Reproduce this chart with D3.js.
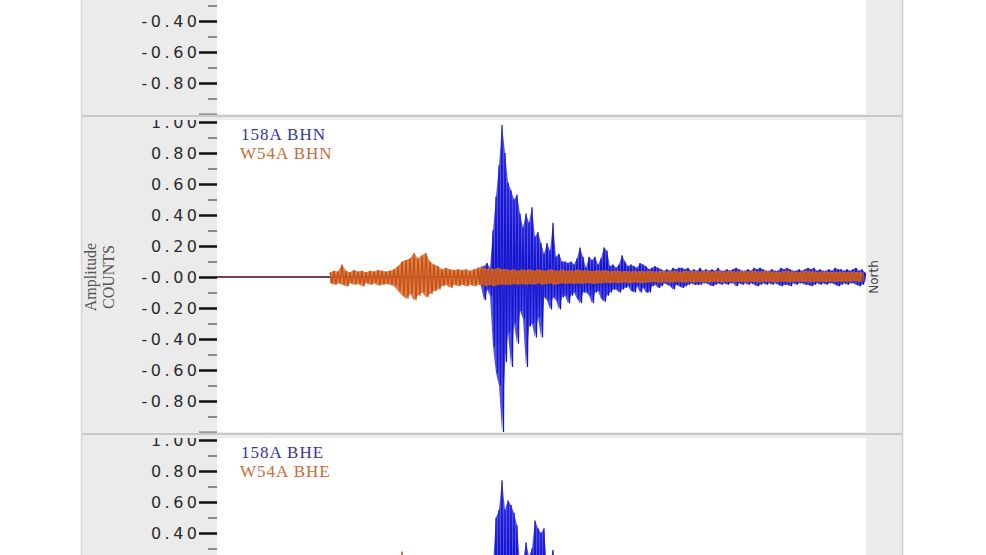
<!DOCTYPE html>
<html><head><meta charset="utf-8">
<script src="https://cdn.jsdelivr.net/npm/d3@7"></script>
<style>html,body{margin:0;padding:0;background:#fff}svg{display:block}</style>
</head><body>
<svg id="chart" width="986" height="555"></svg>
<script>
// ---------------- DATA ----------------
const stations = ["158A", "W54A"];
const channels = ["BHZ", "BHN", "BHE"];
const componentNames = ["Vertical", "North", "East"];
const majorTicks = [1, 0.8, 0.6, 0.4, 0.2, 0, -0.2, -0.4, -0.6, -0.8, -1];
const majorLabels = ["1.00", "0.80", "0.60", "0.40", "0.20", "-0.00", "-0.20", "-0.40", "-0.60", "-0.80", ""];
const minorTicks = [0.9, 0.7, 0.5, 0.3, 0.1, -0.1, -0.3, -0.5, -0.7, -0.9];
const recordStart = 0, recordEnd = 649;   // seconds

// 158A BHN (blue) envelope samples
const bhnBlueStart = 261, bhnBlueStep = 3;
const bhnBlueHi = [0.02,0.05,0.07,0.09,0.06,0.30,0.52,0.72,0.98,0.80,0.61,0.56,0.50,0.53,0.41,0.32,0.41,0.35,0.45,0.26,
0.29,0.22,0.15,0.22,0.17,0.35,0.13,0.15,0.10,0.10,0.09,0.10,0.08,0.12,0.19,0.13,0.06,0.13,0.11,0.13,
0.08,0.12,0.19,0.17,0.07,0.08,0.06,0.08,0.14,0.10,0.07,0.08,0.07,0.06,0.09,0.08,0.07,0.05,0.06,0.07,
0.06,0.05,0.04,0.05,0.04,0.06,0.05,0.06,0.06,0.05,0.06,0.04,0.05,0.04,0.06,0.04,0.05,0.04,0.05,0.04,
0.06,0.04,0.04,0.05,0.04,0.05,0.06,0.05,0.04,0.04,0.05,0.04,0.06,0.05,0.06,0.05,0.04,0.04,0.05,0.04,
0.04,0.06,0.05,0.06,0.05,0.04,0.04,0.05,0.04,0.05,0.06,0.05,0.06,0.04,0.05,0.04,0.04,0.05,0.04,0.06,
0.05,0.05,0.04,0.05,0.04,0.05,0.06,0.04,0.05,0.03];
const bhnBlueLo = [-0.02,-0.06,-0.15,-0.08,-0.12,-0.45,-0.62,-0.70,-1.00,-0.55,-0.36,-0.58,-0.30,-0.43,-0.22,-0.27,-0.58,-0.32,-0.30,-0.39,
-0.26,-0.39,-0.13,-0.15,-0.21,-0.13,-0.15,-0.21,-0.13,-0.12,-0.17,-0.12,-0.10,-0.14,-0.17,-0.10,-0.10,-0.12,-0.17,-0.10,
-0.09,-0.14,-0.16,-0.12,-0.10,-0.08,-0.08,-0.10,-0.08,-0.07,-0.06,-0.09,-0.10,-0.06,-0.10,-0.07,-0.10,-0.10,-0.06,-0.05,
-0.07,-0.06,-0.04,-0.05,-0.06,-0.08,-0.05,-0.06,-0.07,-0.06,-0.05,-0.04,-0.05,-0.05,-0.05,-0.04,-0.04,-0.05,-0.06,-0.05,
-0.04,-0.05,-0.04,-0.05,-0.04,-0.04,-0.06,-0.04,-0.05,-0.04,-0.05,-0.04,-0.05,-0.06,-0.05,-0.04,-0.05,-0.04,-0.05,-0.04,
-0.05,-0.06,-0.05,-0.05,-0.06,-0.04,-0.05,-0.04,-0.04,-0.05,-0.05,-0.06,-0.05,-0.04,-0.05,-0.04,-0.05,-0.04,-0.04,-0.05,
-0.06,-0.05,-0.04,-0.05,-0.04,-0.04,-0.05,-0.06,-0.05,-0.03];

// W54A BHN (orange) envelope samples
const bhnOrangeStart = 113, bhnOrangeStep = 4;
const bhnOrangeHi = [0.03,0.04,0.035,0.08,0.04,0.03,0.045,0.035,0.04,0.03,0.04,0.035,0.045,0.04,0.035,0.04,0.05,0.07,0.10,0.11,
0.12,0.155,0.12,0.14,0.155,0.10,0.08,0.07,0.05,0.06,0.05,0.045,0.05,0.045,0.05,0.04,0.05,0.06,0.07,0.05,
0.06,0.05,0.06,0.05,0.05,0.045,0.05,0.04,0.05,0.045,0.05,0.04,0.05,0.045,0.04,0.05,0.045,0.04,0.05,0.04,
0.045,0.04,0.05,0.04,0.045,0.04,0.04,0.045,0.04,0.045,0.035,0.04,0.04,0.035,0.04,0.035,0.04,0.035,0.04,0.035,
0.04,0.035,0.035,0.04,0.035,0.035,0.04,0.035,0.035,0.04,0.035,0.04,0.035,0.035,0.04,0.035,0.035,0.04,0.035,0.035,
0.04,0.035,0.035,0.04,0.035,0.035,0.04,0.035,0.035,0.04,0.035,0.035,0.03,0.035,0.04,0.035,0.035,0.03,0.035,0.04,
0.035,0.035,0.03,0.035,0.035,0.03,0.035,0.03,0.035,0.03,0.03,0.035,0.03,0.03];
const bhnOrangeLo = [-0.04,-0.05,-0.04,-0.05,-0.06,-0.04,-0.05,-0.045,-0.06,-0.04,-0.05,-0.04,-0.055,-0.05,-0.045,-0.05,-0.06,-0.09,-0.12,-0.14,
-0.11,-0.15,-0.12,-0.10,-0.13,-0.11,-0.09,-0.08,-0.06,-0.05,-0.07,-0.05,-0.06,-0.05,-0.06,-0.05,-0.06,-0.05,-0.05,-0.06,
-0.05,-0.06,-0.05,-0.05,-0.05,-0.05,-0.045,-0.05,-0.045,-0.05,-0.045,-0.05,-0.04,-0.05,-0.045,-0.04,-0.05,-0.045,-0.04,-0.045,
-0.04,-0.045,-0.04,-0.045,-0.04,-0.04,-0.045,-0.04,-0.04,-0.035,-0.04,-0.035,-0.04,-0.035,-0.035,-0.04,-0.035,-0.035,-0.04,-0.035,
-0.035,-0.03,-0.035,-0.035,-0.03,-0.035,-0.035,-0.03,-0.035,-0.035,-0.03,-0.035,-0.03,-0.035,-0.03,-0.035,-0.03,-0.03,-0.035,-0.03,
-0.03,-0.035,-0.03,-0.03,-0.035,-0.03,-0.03,-0.035,-0.03,-0.03,-0.03,-0.035,-0.03,-0.03,-0.03,-0.035,-0.03,-0.03,-0.03,-0.03,
-0.035,-0.03,-0.03,-0.03,-0.03,-0.03,-0.03,-0.03,-0.03,-0.03,-0.03,-0.025,-0.03,-0.03];

// 158A BHE (blue) envelope samples
const bheBlueStart = 261, bheBlueStep = 3;
const bheBlueHi = [0.03,0.05,0.07,0.08,0.12,0.20,0.50,0.55,0.74,0.55,0.61,0.58,0.53,0.45,0.20,0.22,0.34,0.25,0.30,0.48,
0.43,0.40,0.43,0.18,0.22,0.29,0.15,0.18,0.14,0.16,0.12,0.13,0.10,0.12,0.09,0.11,0.08,0.10,0.08,0.09,0.07];
const bheBlueLo = [-0.03,-0.05,-0.06,-0.09,-0.10,-0.25,-0.45,-0.60,-0.70,-0.50,-0.45,-0.40,-0.42,-0.35,-0.30,-0.25,-0.28,-0.30,-0.22,-0.35,
-0.30,-0.28,-0.25,-0.20,-0.18,-0.22,-0.15,-0.14,-0.12,-0.15,-0.12,-0.11,-0.12,-0.10,-0.10,-0.09,-0.10,-0.08,-0.09,-0.08,-0.07];

// W54A BHE (orange) envelope samples
const bheOrangeStart = 113, bheOrangeStep = 4;
const bheOrangeHi = [0.03,0.04,0.03,0.05,0.04,0.03,0.05,0.04,0.06,0.04,0.05,0.06,0.08,0.07,0.09,0.12,0.15,0.18,0.28,0.20,
0.17,0.19,0.15,0.16,0.12,0.10,0.08,0.07,0.06,0.06,0.05,0.05,0.06,0.05,0.05,0.04,0.05,0.05,0.04,0.05,
0.04,0.05,0.04,0.04,0.05,0.04,0.04,0.05,0.04,0.04,0.04,0.05,0.04,0.04,0.04,0.04,0.04];
const bheOrangeLo = [-0.03,-0.04,-0.05,-0.04,-0.05,-0.04,-0.05,-0.04,-0.05,-0.06,-0.05,-0.07,-0.07,-0.08,-0.10,-0.11,-0.14,-0.20,-0.22,-0.18,
-0.20,-0.16,-0.17,-0.14,-0.13,-0.11,-0.09,-0.08,-0.07,-0.06,-0.06,-0.05,-0.06,-0.05,-0.05,-0.05,-0.04,-0.05,-0.05,-0.04,
-0.05,-0.04,-0.04,-0.05,-0.04,-0.04,-0.05,-0.04,-0.04,-0.04,-0.05,-0.04,-0.04,-0.04,-0.04,-0.04,-0.04];

// ---------------- LAYOUT ----------------
const W = 986, H = 555;
const plotLeft = 217, plotRight = 866, stripRight = 902, outerLeft = 82;
const panelTops = [-196, 122, 440];
const plotH = 310;
const blue = {line: "#1414cc", fill: "#3434e8", text: "#35359f"};
const orange = {line: "#c64e12", fill: "#d86a2a", text: "#c66c33"};

const traces = [
  null,
  {blue: [bhnBlueStart, bhnBlueStep, bhnBlueHi, bhnBlueLo], orange: [bhnOrangeStart, bhnOrangeStep, bhnOrangeHi, bhnOrangeLo]},
  {blue: [bheBlueStart, bheBlueStep, bheBlueHi, bheBlueLo], orange: [bheOrangeStart, bheOrangeStep, bheOrangeHi, bheOrangeLo]}
];

const svg = d3.select("#chart");
const defs = svg.append("defs");
const x = d3.scaleLinear().domain([recordStart, recordEnd]).range([plotLeft, plotRight]);

function samples(start, step, hi, lo) {
  return hi.map((h, i) => ({t: start + i * step, hi: h, lo: lo[i]}));
}

panelTops.forEach((T, p) => {
  const y = d3.scaleLinear().domain([-1, 1]).range([T + plotH, T]);
  const g = svg.append("g");
  const cid = "clip" + p, pid = "pclip" + p;
  defs.append("clipPath").attr("id", cid).append("rect")
    .attr("x", outerLeft).attr("y", T - 2).attr("width", stripRight - outerLeft).attr("height", plotH + 3);
  defs.append("clipPath").attr("id", pid).append("rect")
    .attr("x", plotLeft).attr("y", T - 2).attr("width", plotRight - plotLeft).attr("height", plotH + 2);

  g.append("rect").attr("x", outerLeft).attr("y", T - 5).attr("width", stripRight - outerLeft).attr("height", plotH + 18)
    .attr("fill", "#ebebeb");
  g.append("rect").attr("x", plotLeft).attr("y", T - 2).attr("width", plotRight - plotLeft).attr("height", plotH + 2)
    .attr("fill", "#ffffff");

  // traces
  const tg = g.append("g").attr("clip-path", `url(#${pid})`);
  const tr = traces[p];
  if (tr) {
    const line = d3.line().x(d => x(d[0])).y(d => y(d[1]));
    const area = d3.area().x(d => x(d.t)).y0(d => y(d.lo)).y1(d => y(d.hi));
    [["blue", blue], ["orange", orange]].forEach(([key, col]) => {
      const [start, step, hi, lo] = tr[key];
      const s = samples(start, step, hi, lo);
      const last = s[s.length - 1].t + step / 2;
      tg.append("path").attr("d", line([[recordStart, 0], [start, 0]]))
        .attr("fill", "none").attr("stroke", key === "orange" ? "#7e3a2c" : col.line).attr("stroke-width", 1.4);
      tg.append("path").attr("d", line([[last, 0], [recordEnd, 0]]))
        .attr("fill", "none").attr("stroke", col.line).attr("stroke-width", 1.2);
      tg.append("path").attr("d", area(s)).attr("fill", col.fill).attr("fill-opacity", 0.85);
      const pts = [];
      s.forEach(d => { pts.push([d.t, d.hi]); pts.push([d.t + step / 2, d.lo]); });
      tg.append("path").attr("d", line(pts)).attr("fill", "none")
        .attr("stroke", col.line).attr("stroke-width", 1.2);
    });
  }

  // axes
  const ag = g.append("g").attr("clip-path", `url(#${cid})`);
  const minorAxis = d3.axisLeft(y).tickValues(minorTicks).tickSize(9).tickFormat("");
  const ma = ag.append("g").attr("transform", `translate(${plotLeft},0)`).call(minorAxis);
  ma.select(".domain").remove();
  ma.selectAll("line").attr("stroke", "#8a8a8a").attr("stroke-width", 2);

  const majorAxis = d3.axisLeft(y).tickValues(majorTicks)
    .tickFormat((d, i) => majorLabels[i]).tickSize(18).tickPadding(-1.5);
  const mj = ag.append("g").attr("transform", `translate(${plotLeft},0)`).call(majorAxis);
  mj.select(".domain").remove();
  mj.selectAll("line").attr("stroke", (d, i) => i === majorTicks.length - 1 ? "#9a9a9a" : "#111").attr("stroke-width", 2.5);
  mj.selectAll("text").attr("fill", "#2a2a2a")
    .style("font-family", "'DejaVu Sans', sans-serif").style("font-size", "16px").style("letter-spacing", "3.5px");

  const cy = T + plotH / 2;
  ag.append("text").attr("transform", `translate(90,${cy}) rotate(-90)`)
    .attr("text-anchor", "middle").attr("dominant-baseline", "central")
    .style("font-family", "'Liberation Serif', serif").style("font-size", "16px").attr("fill", "#555")
    .text("Amplitude");
  ag.append("text").attr("transform", `translate(108,${cy}) rotate(-90)`)
    .attr("text-anchor", "middle").attr("dominant-baseline", "central")
    .style("font-family", "'Liberation Serif', serif").style("font-size", "16px").attr("fill", "#555")
    .text("COUNTS");
  ag.append("text").attr("transform", `translate(874,${cy}) rotate(-90)`)
    .attr("text-anchor", "middle").attr("dominant-baseline", "central")
    .style("font-family", "'DejaVu Sans', sans-serif").style("font-size", "12px").attr("fill", "#444")
    .text(componentNames[p]);

  ag.append("text").attr("x", 241).attr("y", T + 18)
    .style("font-family", "'Liberation Serif', serif").style("font-size", "17px").style("letter-spacing", "1px")
    .attr("fill", blue.text).text(stations[0] + " " + channels[p]);
  ag.append("text").attr("x", 240).attr("y", T + 37)
    .style("font-family", "'Liberation Serif', serif").style("font-size", "17px").style("letter-spacing", "1px")
    .attr("fill", orange.text).text(stations[1] + " " + channels[p]);
});

// separators and borders
panelTops.forEach(T => {
  svg.append("line").attr("x1", 81).attr("x2", 903).attr("y1", T + plotH + 2).attr("y2", T + plotH + 2)
    .attr("stroke", "#c8c8c8").attr("stroke-width", 2);
});
svg.append("line").attr("x1", 81.5).attr("x2", 81.5).attr("y1", 0).attr("y2", H).attr("stroke", "#d6d6d6").attr("stroke-width", 1.5);
svg.append("line").attr("x1", 902.5).attr("x2", 902.5).attr("y1", 0).attr("y2", H).attr("stroke", "#d0d0d0").attr("stroke-width", 1.5);
</script>
</body></html>
